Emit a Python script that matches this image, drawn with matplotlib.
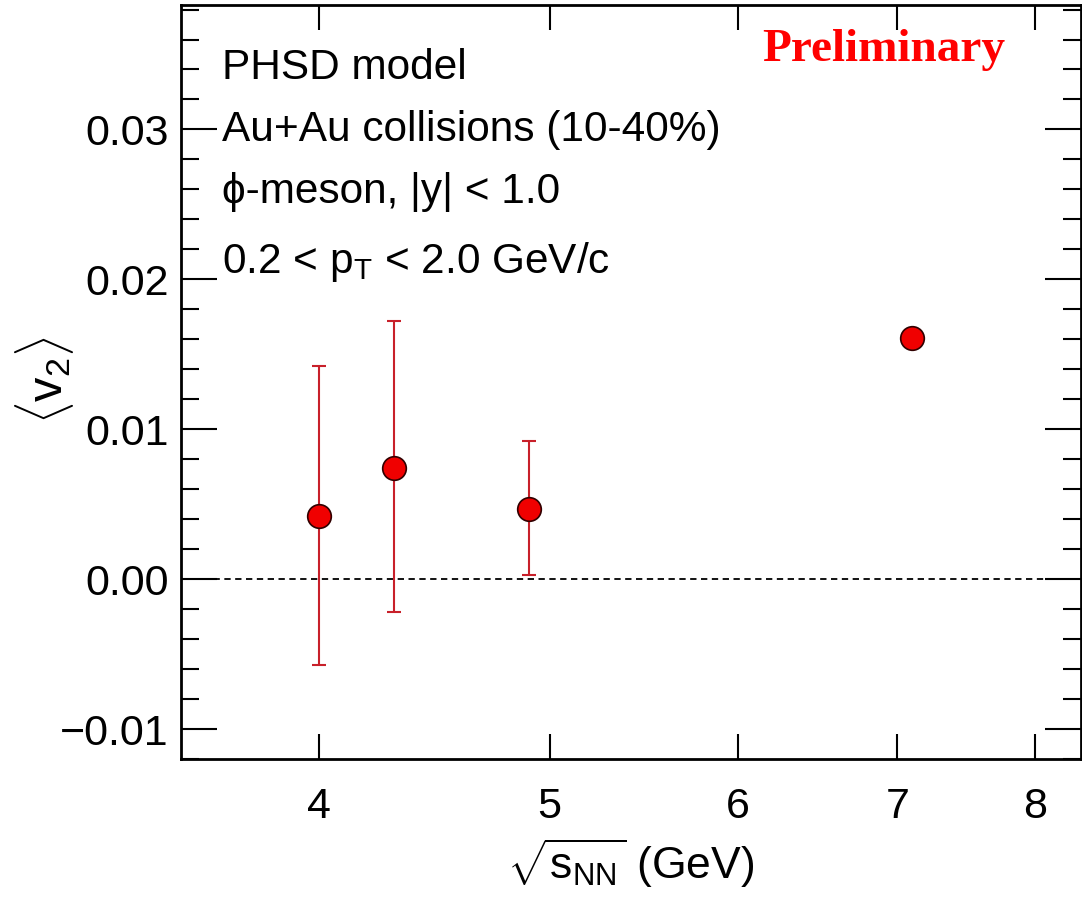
import numpy as np
import matplotlib
matplotlib.use("Agg")
import matplotlib.pyplot as plt
from matplotlib.ticker import FixedLocator, NullLocator, MultipleLocator, FormatStrFormatter

plt.rcParams['font.family'] = ['Liberation Sans', 'DejaVu Sans']
plt.rcParams['mathtext.fontset'] = 'custom'
plt.rcParams['mathtext.rm'] = 'Liberation Sans'
plt.rcParams['mathtext.it'] = 'Liberation Sans:italic'
plt.rcParams['mathtext.bf'] = 'Liberation Sans:bold'

# PHSD phi-meson <v2> vs collision energy
energy = [4.0, 4.3, 4.9, 7.1]
v2 = [0.0042, 0.0074, 0.0047, 0.0161]
v2_lo = [-0.0057, -0.0022, 0.0003, 0.0158]
v2_hi = [0.0142, 0.0172, 0.0092, 0.0164]
xticks = [4, 5, 6, 7, 8]

v2 = np.array(v2)
yerr = [v2 - np.array(v2_lo), np.array(v2_hi) - v2]

fig = plt.figure(figsize=(10.82, 8.99), dpi=100)
ax = fig.add_axes([0.1673, 0.1557, 0.8317, 0.8387])

ax.axhline(0, color='black', lw=1.3, ls=(0, (3.5, 2.5)), zorder=1)
ax.errorbar(energy, v2, yerr=yerr, fmt='none', ecolor='#c8202a', elinewidth=1.5,
            capsize=5, capthick=1.5, zorder=2)
ax.plot(energy, v2, 'o', ms=17, mfc='#f00000', mec='#300000', mew=1.2, zorder=3)

ax.set_xscale('log')
ax.set_xlim(3.5, 8.36)
ax.set_ylim(-0.012, 0.0383)
ax.xaxis.set_major_locator(FixedLocator(xticks))
ax.xaxis.set_minor_locator(NullLocator())
ax.set_xticklabels([str(t) for t in xticks])
ax.yaxis.set_major_locator(MultipleLocator(0.01))
ax.yaxis.set_minor_locator(MultipleLocator(0.002))
ax.yaxis.set_major_formatter(FormatStrFormatter('%.2f'))

ax.tick_params(which='both', direction='in', top=True, right=True, width=1.5)
ax.tick_params(axis='y', which='major', length=26, labelsize=31, pad=9)
ax.tick_params(axis='y', which='minor', length=13)
ax.tick_params(axis='x', which='major', length=18, labelsize=31, pad=20)
for sp in ax.spines.values():
    sp.set_linewidth(2)

# minus sign as in the original axis labels
ax.set_yticklabels([('\u2212%.2f' % abs(t)) if t < -1e-9 else '%.2f' % abs(t)
                    for t in ax.get_yticks()])

ax.set_xlabel(r'$\sqrt{\mathrm{s}_{\mathrm{NN}}}$ (GeV)', fontsize=32, labelpad=7)
fig.text(45 / 1082, 1 - 380 / 899, r'$\langle\mathrm{v}_{2}\rangle$', rotation=90,
         fontsize=35, ha='center', va='center')

lines = ['PHSD model', 'Au+Au collisions (10-40%)',
         '\u03d5-meson, |y| < 1.0', r'0.2 < p$_{\mathrm{T}}$ < 2.0 GeV/c']
ys = [68, 130, 192, 262]
for s, yp in zip(lines, ys):
    fig.text(222 / 1082, 1 - yp / 899, s, fontsize=30.5, ha='left', va='center')

fig.text(762 / 1082, 1 - 50 / 899, 'Preliminary', fontsize=34, color='#ff0000',
         fontweight='bold', family=['Liberation Serif', 'DejaVu Serif'],
         ha='left', va='center')

fig.savefig('out.png', dpi=100, facecolor='white')
